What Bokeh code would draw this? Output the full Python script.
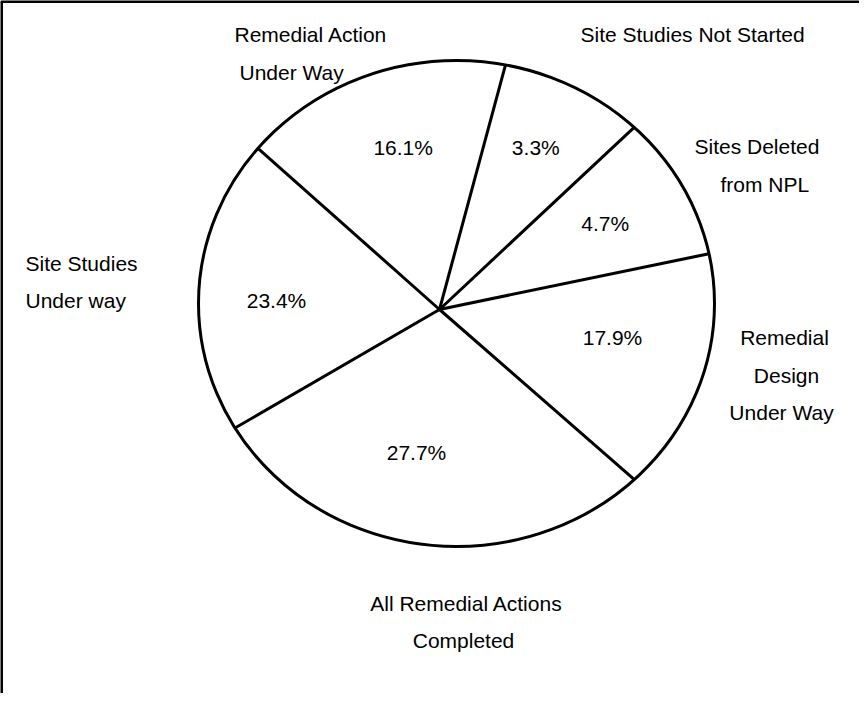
import numpy as np
from bokeh.plotting import figure
from bokeh.models import Range1d, ColumnDataSource
from bokeh.core.properties import value
from bokeh.embed import file_html
from bokeh.resources import INLINE

# ---------------- data ----------------
categories = ["Sites Deleted from NPL", "Site Studies Not Started",
              "Remedial Action Under Way", "Site Studies Under way",
              "All Remedial Actions Completed", "Remedial Design Under Way"]
percent = [4.7, 3.3, 16.1, 23.4, 27.7, 17.9]
# angular size of each slice as drawn in the picture (degrees, counter-clockwise)
drawn_span_deg = [31.4, 31.8, 63.5, 71.7, 108.8, 52.8]
start_deg = 11.7

# label lines for each category (as printed in the chart)
label_lines = [["Sites Deleted", "from NPL"],
               ["Site Studies Not Started"],
               ["Remedial Action", "Under Way"],
               ["Site Studies", "Under way"],
               ["All Remedial Actions", "Completed"],
               ["Remedial", "Design", "Under Way"]]

# ---------------- layout (screen pixels, y down) ----------------
W, H = 859, 693
hub = (447.0, 317.0)               # where the slice lines meet
ell_c = (464.0, 311.0)             # outline centre
ell_rx, ell_ry = 258.0, 243.0
pct_pos = [(612.7, 230.7), (543.3, 155.0), (410.7, 155.0),
           (284.0, 308.3), (424.0, 460.0), (620.0, 345.0)]
# (x, y, align) per line of each outer label
outer_pos = [[(702, 154, "left"), (728, 192, "left")],
             [(588, 42, "left")],
             [(242, 42, "left"), (247, 80, "left")],
             [(33, 271, "left"), (33, 308, "left")],
             [(474, 611, "center"), (471, 648, "center")],
             [(792, 345, "center"), (794, 383, "center"), (789, 420, "center")]]

FONT = value("Liberation Sans")
FS = value("21px")

p = figure(width=W, height=H, output_backend="svg", toolbar_location=None,
           x_range=Range1d(8, 8 + W), y_range=Range1d(8 + H, 8),
           min_border=0, tools="")
p.axis.visible = False
p.grid.visible = False
p.outline_line_color = None
p.background_fill_color = "white"
p.border_fill_color = "white"

# frame (top and left edges visible)
p.segment(x0=[8, 9], y0=[9, 9], x1=[8 + W, 9], y1=[9, 8 + H],
          line_color="black", line_width=3)

# pie outline
p.ellipse(x=[ell_c[0]], y=[ell_c[1]], width=[2 * ell_rx], height=[2 * ell_ry],
          fill_color=None, line_color="black", line_width=3)

# slice boundary lines
bounds = start_deg + np.concatenate([[0.0], np.cumsum(drawn_span_deg)[:-1]])
th = np.radians(bounds)
dx, dy = np.cos(th), -np.sin(th)
ux, uy = hub[0] - ell_c[0], hub[1] - ell_c[1]
A = (dx / ell_rx) ** 2 + (dy / ell_ry) ** 2
B = 2 * (ux * dx / ell_rx ** 2 + uy * dy / ell_ry ** 2)
C = (ux / ell_rx) ** 2 + (uy / ell_ry) ** 2 - 1
t = (-B + np.sqrt(B * B - 4 * A * C)) / (2 * A)
p.segment(x0=[hub[0]] * len(t), y0=[hub[1]] * len(t),
          x1=list(hub[0] + t * dx), y1=list(hub[1] + t * dy),
          line_color="black", line_width=3)

# percentage labels
src = ColumnDataSource(dict(x=[q[0] for q in pct_pos], y=[q[1] for q in pct_pos],
                            t=[f"{v:.1f}%" for v in percent]))
p.text(x="x", y="y", text="t", source=src, text_align="center",
       text_baseline="middle", text_font=FONT, text_font_size=FS,
       text_color="black")

# category labels
xs, ys, ts, al = [], [], [], []
for lines, poss in zip(label_lines, outer_pos):
    for s, (x, y, a) in zip(lines, poss):
        xs.append(x); ys.append(y); ts.append(s); al.append(a)
for a in ("left", "center"):
    idx = [i for i in range(len(ts)) if al[i] == a]
    p.text(x=[xs[i] for i in idx], y=[ys[i] for i in idx], text=[ts[i] for i in idx],
           text_align=a, text_baseline="middle", text_font=FONT,
           text_font_size=FS, text_color="black")

open("out.html", "w").write(file_html(p, INLINE))
